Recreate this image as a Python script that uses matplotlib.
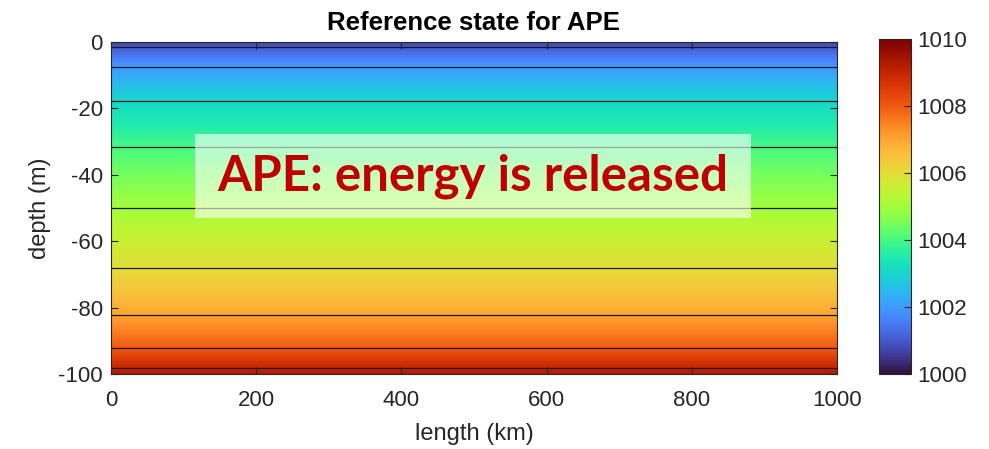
import numpy as np
import matplotlib
matplotlib.use("Agg")
import matplotlib.pyplot as plt
from matplotlib.patches import Rectangle

# density profile of the reference state
length_km = [0, 1000]
depth_m = [0, -1.6, -7.6, -17.7, -31.6, -50.0, -68.1, -82.1, -92.2, -98.3, -100]
density = [1000.7, 1001, 1002, 1003, 1004, 1005, 1006, 1007, 1008, 1009, 1009.3]
contour_levels = [1001, 1002, 1003, 1004, 1005, 1006, 1007, 1008, 1009]
cbar_ticks = [1000, 1002, 1004, 1006, 1008, 1010]

X, Z = np.meshgrid(length_km, depth_m)
R = np.tile(np.array(density)[:, None], (1, len(length_km)))

plt.rcParams['font.family'] = ['Liberation Sans', 'DejaVu Sans']
plt.rcParams['axes.unicode_minus'] = False
fig = plt.figure(figsize=(9.89, 4.49), dpi=100)
ax = fig.add_axes([0.1122, 0.167, 0.7341, 0.7394])
cax = fig.add_axes([0.8888, 0.167, 0.0324, 0.746])

cf = ax.contourf(X, Z, R, levels=np.linspace(1000, 1010, 201), cmap='turbo', vmin=1000, vmax=1010)
ax.contour(X, Z, R, levels=contour_levels, colors='#1a1a1a', linewidths=0.9)

ax.set_xlim(0, 1000)
ax.set_ylim(-100, 0)
ax.set_xticks([0, 200, 400, 600, 800, 1000])
ax.set_yticks([-100, -80, -60, -40, -20, 0])
ax.tick_params(direction='in', top=True, right=True, labelsize=16, colors='#262626', length=5)
ax.tick_params(axis='x', pad=11.5)
ax.tick_params(axis='y', pad=6)
for s in ax.spines.values():
    s.set_color('#262626')
ax.set_xlabel('length (km)', fontsize=17, color='#262626', labelpad=9)
ax.set_ylabel('depth (m)', fontsize=17, color='#262626', labelpad=5)
ax.set_title('Reference state for APE', fontsize=18.5, fontweight='bold', pad=9)

ax.add_patch(Rectangle((115.7, -53), 765.8, 25.3, facecolor='white', alpha=0.6, edgecolor='none', zorder=5))
ax.text(498, -40.3, 'APE: energy is released', fontsize=35.5, fontweight='bold', color='#c00000',
        family=['Lato', 'DejaVu Sans'], ha='center', va='center', zorder=6)

sm = plt.cm.ScalarMappable(cmap='turbo', norm=plt.Normalize(1000, 1010))
cb = fig.colorbar(sm, cax=cax, ticks=cbar_ticks)
cb.ax.tick_params(direction='in', labelsize=16, colors='#262626', length=5, pad=4.5)
cb.outline.set_edgecolor('#262626')

fig.savefig('out.png', dpi=100)
